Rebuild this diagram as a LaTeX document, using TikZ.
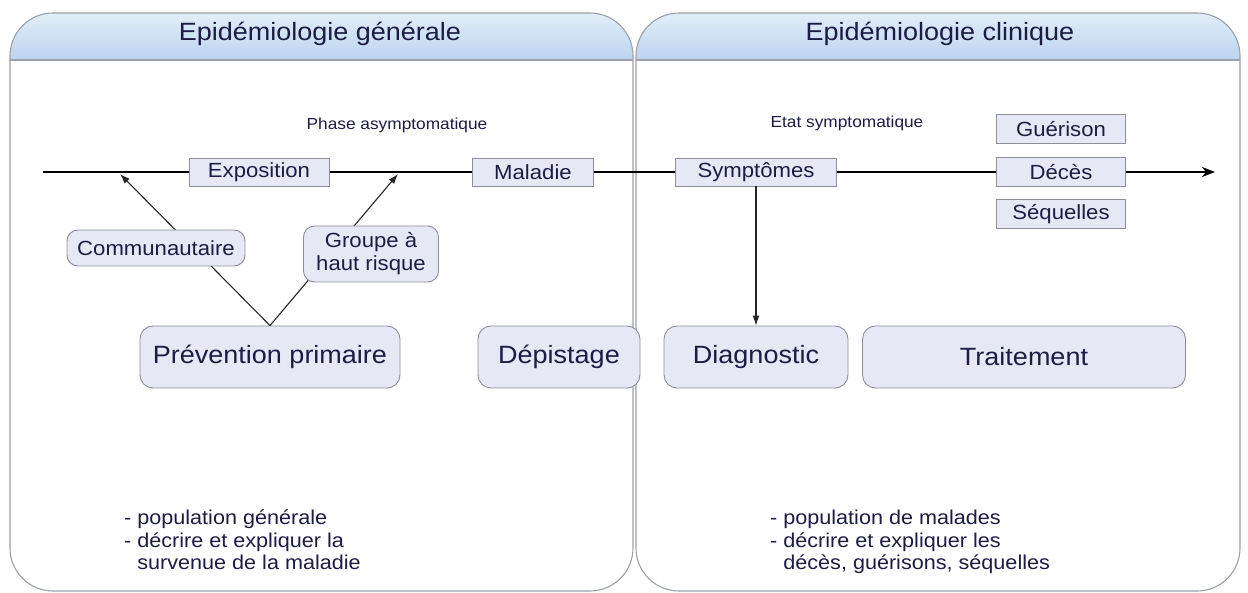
\documentclass[tikz,border=0pt]{standalone}
\usepackage{fontspec}
\setmainfont[FakeStretch=1.08]{Liberation Sans}
\usetikzlibrary{arrows.meta}
\definecolor{hdrtop}{HTML}{E2EDF9}
\definecolor{hdrbot}{HTML}{BBD4EE}
\definecolor{pborder}{HTML}{9A9FA8}
\definecolor{boxfill}{HTML}{E6E8F6}
\definecolor{boxdraw}{HTML}{8E8E96}
\definecolor{txt}{HTML}{1C1C44}
\tikzset{
  panelline/.style={draw=pborder, line width=1.1pt},
  title/.style={text=txt, font=\fontsize{25}{28}\selectfont},
  phase/.style={text=txt, font=\fontsize{16}{18}\selectfont},
  tbox/.style={draw=boxdraw, fill=boxfill, line width=0.9pt, text=txt, inner sep=0pt,
    font=\fontsize{20.5}{23}\selectfont},
  sbox/.style={draw=boxdraw, fill=boxfill, line width=0.9pt, rounded corners=11pt, text=txt,
    inner sep=0pt, align=center, font=\fontsize{20.5}{23}\selectfont},
  bbox/.style={draw=boxdraw, fill=boxfill, line width=0.9pt, rounded corners=13pt, text=txt,
    inner sep=0pt, minimum height=62pt, font=\fontsize{25}{28}\selectfont},
  note/.style={text=txt, align=left, inner sep=0pt, font=\fontsize{20}{22.5}\selectfont},
  timeline/.style={line width=2.3pt, -{Stealth[length=13pt,width=10pt]}},
  conn/.style={line width=1.1pt, draw=black!85, -{Latex[length=10pt,width=7pt]}}
}
\begin{document}
\begin{tikzpicture}[x=1pt,y=-1pt]
\useasboundingbox (0,0) rectangle (1248,593);
% panels
\begin{scope}
\clip[rounded corners=43pt] (10,13) rectangle (633,591);
\shade[top color=hdrtop,bottom color=hdrbot] (10,13) rectangle (633,60);
\end{scope}
\begin{scope}
\clip[rounded corners=43pt] (636,13) rectangle (1240,591);
\shade[top color=hdrtop,bottom color=hdrbot] (636,13) rectangle (1240,60);
\end{scope}
\draw[panelline] (10,60) -- (633,60);
\draw[panelline] (636,60) -- (1240,60);
\draw[panelline, rounded corners=43pt] (10,13) rectangle (633,591);
\draw[panelline, rounded corners=43pt] (636,13) rectangle (1240,591);
\node[title] (t1) at (320,34) {Epidémiologie générale};
\node[title] (t2) at (940,34) {Epidémiologie clinique};
% phase labels
\node[phase] (pa) at (397,125) {Phase asymptomatique};
\node[phase] (es) at (847,123) {Etat symptomatique};
% timeline
\coordinate (tls) at (43,172);
\coordinate (tle) at (1215,172);
\draw[timeline] (tls) -- (tle);
% primary prevention arrows
\node[bbox, minimum width=260pt] (prev) at (270,357) {Prévention primaire};
\coordinate (a1) at (120,174);
\coordinate (a2) at (398,174);
\draw[conn] (prev.north) -- (a1);
\draw[conn] (prev.north) -- (a2);
% timeline boxes
\node[tbox, minimum width=140pt, minimum height=28pt] (expo) at (259,172) {Exposition};
\node[tbox, minimum width=121pt, minimum height=28pt] (mal) at (533,172) {Maladie};
\node[tbox, minimum width=161pt, minimum height=28pt] (sym) at (756,172) {Symptômes};
\node[tbox, minimum width=129pt, minimum height=29pt] (guer) at (1061,129) {Guérison};
\node[tbox, minimum width=129pt, minimum height=29pt] (dec) at (1061,172) {Décès};
\node[tbox, minimum width=129pt, minimum height=29pt] (seq) at (1061,214) {Séquelles};
% rounded boxes
\node[sbox, minimum width=178pt, minimum height=36pt] (comm) at (156,248) {Communautaire};
\node[sbox, minimum width=135pt, minimum height=56pt] (grp) at (371,254) {Groupe à\\haut risque};
\node[bbox, minimum width=162pt] (dep) at (559,357) {Dépistage};
\node[bbox, minimum width=184pt] (diag) at (756,357) {Diagnostic};
\node[bbox, minimum width=323pt] (trait) at (1024,357) {Traitement};
\draw[conn] (sym.south) -- (diag.north);
% notes
\node[note, anchor=north west] (n1) at (124,510) {- population générale\\- décrire et expliquer la\\\phantom{- }survenue de la maladie};
\node[note, anchor=north west] (n2) at (770,510) {- population de malades\\- décrire et expliquer les\\\phantom{- }décès, guérisons, séquelles};
\end{tikzpicture}
\end{document}
